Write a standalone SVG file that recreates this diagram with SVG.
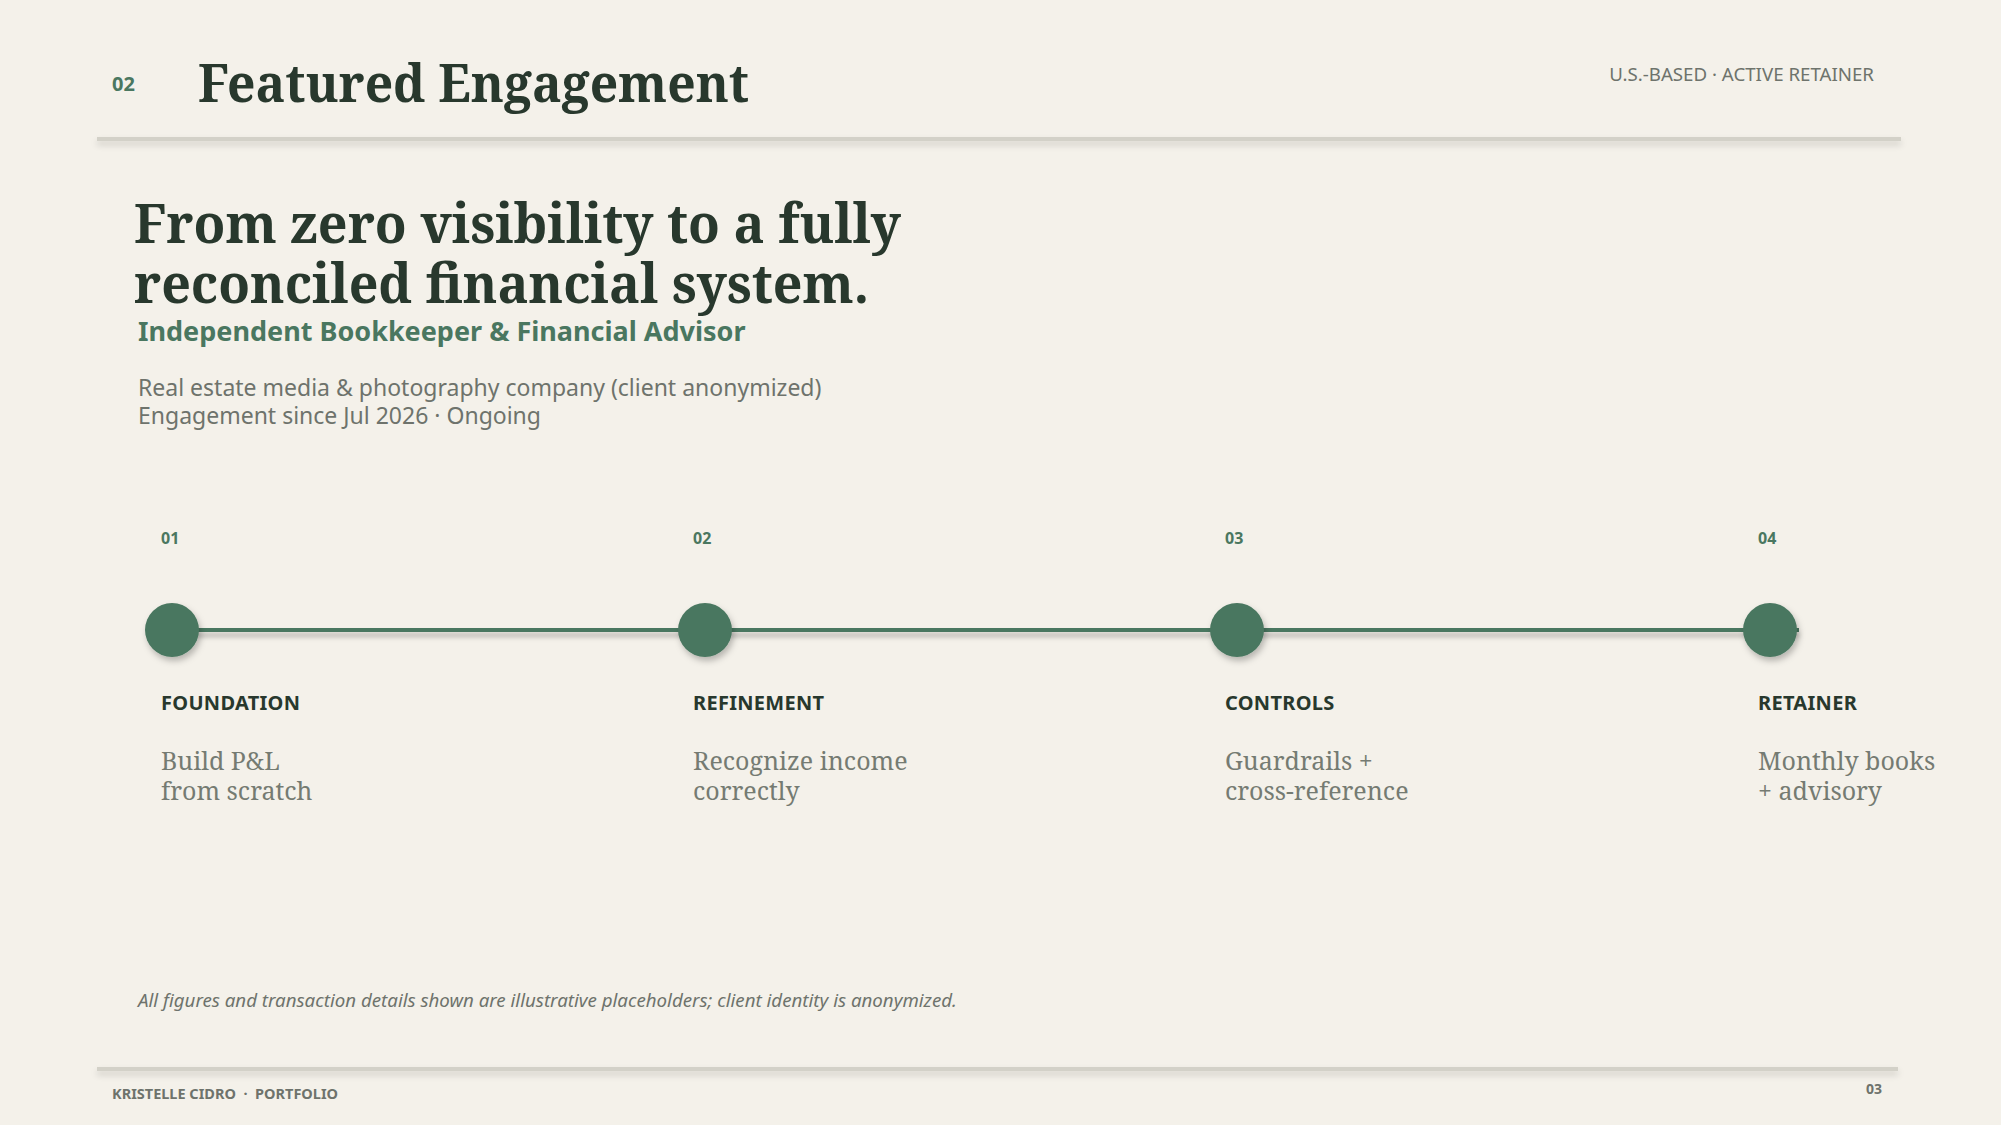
<svg xmlns="http://www.w3.org/2000/svg" width="2001" height="1125" viewBox="0 0 2001 1125">
  <defs>
    <filter id="rule-shadow" x="-5%" y="-200%" width="110%" height="600%">
      <feDropShadow dx="0" dy="4" stdDeviation="3" flood-color="#000" flood-opacity="0.16"/>
    </filter>
    <filter id="dot-shadow" x="-50%" y="-50%" width="200%" height="200%">
      <feDropShadow dx="2" dy="4" stdDeviation="3" flood-color="#000" flood-opacity="0.25"/>
    </filter>
    <filter id="line-shadow" x="-5%" y="-300%" width="110%" height="800%">
      <feDropShadow dx="0" dy="5" stdDeviation="2.5" flood-color="#000" flood-opacity="0.25"/>
    </filter>
  </defs>
  <style>
    .sans { font-family: "Noto Sans", "Open Sans", "Liberation Sans", sans-serif; }
    .serif { font-family: "Noto Serif", "DejaVu Serif", "Liberation Serif", serif; }
    .dark { fill: #28382d; }
    .green { fill: #4a7760; }
    .gray { fill: #6e736c; }
    .num { font-size: 16px; font-weight: 700; }
    .step { font-size: 20px; font-weight: 700; letter-spacing: 0.3px; }
    .desc { font-size: 25px; fill: #757b72; }
    .dot { fill: #4a7760; }
    .rule { fill: #d3d1c8; }
  </style>
  <rect x="0" y="0" width="2001" height="1125" fill="#f4f1ea"/>

  <g id="header">
    <text x="112" y="91" class="sans green" font-size="20" font-weight="700">02</text>
    <text x="198" y="102" class="serif dark" font-size="52" font-weight="700" textLength="551" lengthAdjust="spacingAndGlyphs">Featured Engagement</text>
    <text x="1874" y="81" class="sans gray" font-size="18.7" text-anchor="end">U.S.-BASED · ACTIVE RETAINER</text>
    <rect x="97" y="137" width="1804" height="4" class="rule" filter="url(#rule-shadow)"/>
  </g>

  <g id="intro">
    <text x="134" y="243" class="serif dark" font-size="55" font-weight="700" textLength="767" lengthAdjust="spacingAndGlyphs">From zero visibility to a fully</text>
    <text x="134" y="303" class="serif dark" font-size="55" font-weight="700" textLength="735" lengthAdjust="spacingAndGlyphs">reconciled financial system.</text>
    <text x="138" y="341" class="sans green" font-size="27" font-weight="700">Independent Bookkeeper &amp; Financial Advisor</text>
    <text x="138" y="396" class="sans gray" font-size="23">Real estate media &amp; photography company (client anonymized)</text>
    <text x="138" y="424" class="sans gray" font-size="23">Engagement since Jul 2026 · Ongoing</text>
  </g>

  <g id="connectors">
    <rect x="172" y="628" width="1627" height="4" fill="#4a7760" filter="url(#line-shadow)"/>
  </g>

  <g id="step-01">
    <text x="161" y="544" class="sans green num">01</text>
    <circle cx="172" cy="630" r="27" class="dot" filter="url(#dot-shadow)"/>
    <text x="161" y="710" class="sans dark step">FOUNDATION</text>
    <text x="161" y="770" class="serif desc">Build P&amp;L</text>
    <text x="161" y="800" class="serif desc">from scratch</text>
  </g>

  <g id="step-02">
    <text x="693" y="544" class="sans green num">02</text>
    <circle cx="705" cy="630" r="27" class="dot" filter="url(#dot-shadow)"/>
    <text x="693" y="710" class="sans dark step">REFINEMENT</text>
    <text x="693" y="770" class="serif desc">Recognize income</text>
    <text x="693" y="800" class="serif desc">correctly</text>
  </g>

  <g id="step-03">
    <text x="1225" y="544" class="sans green num">03</text>
    <circle cx="1237" cy="630" r="27" class="dot" filter="url(#dot-shadow)"/>
    <text x="1225" y="710" class="sans dark step">CONTROLS</text>
    <text x="1225" y="770" class="serif desc">Guardrails +</text>
    <text x="1225" y="800" class="serif desc">cross-reference</text>
  </g>

  <g id="step-04">
    <text x="1758" y="544" class="sans green num">04</text>
    <circle cx="1770" cy="630" r="27" class="dot" filter="url(#dot-shadow)"/>
    <text x="1758" y="710" class="sans dark step">RETAINER</text>
    <text x="1758" y="770" class="serif desc">Monthly books</text>
    <text x="1758" y="800" class="serif desc">+ advisory</text>
  </g>

  <g id="footer">
    <text x="138" y="1007" class="sans gray" font-size="18.7" font-style="italic">All figures and transaction details shown are illustrative placeholders; client identity is anonymized.</text>
    <rect x="97" y="1067" width="1801" height="4" class="rule" filter="url(#rule-shadow)"/>
    <text x="112" y="1099" class="sans gray" font-size="14.5" font-weight="700">KRISTELLE CIDRO &#160;·&#160; PORTFOLIO</text>
    <text x="1882" y="1094" class="sans gray" font-size="14" font-weight="700" text-anchor="end">03</text>
  </g>
</svg>
